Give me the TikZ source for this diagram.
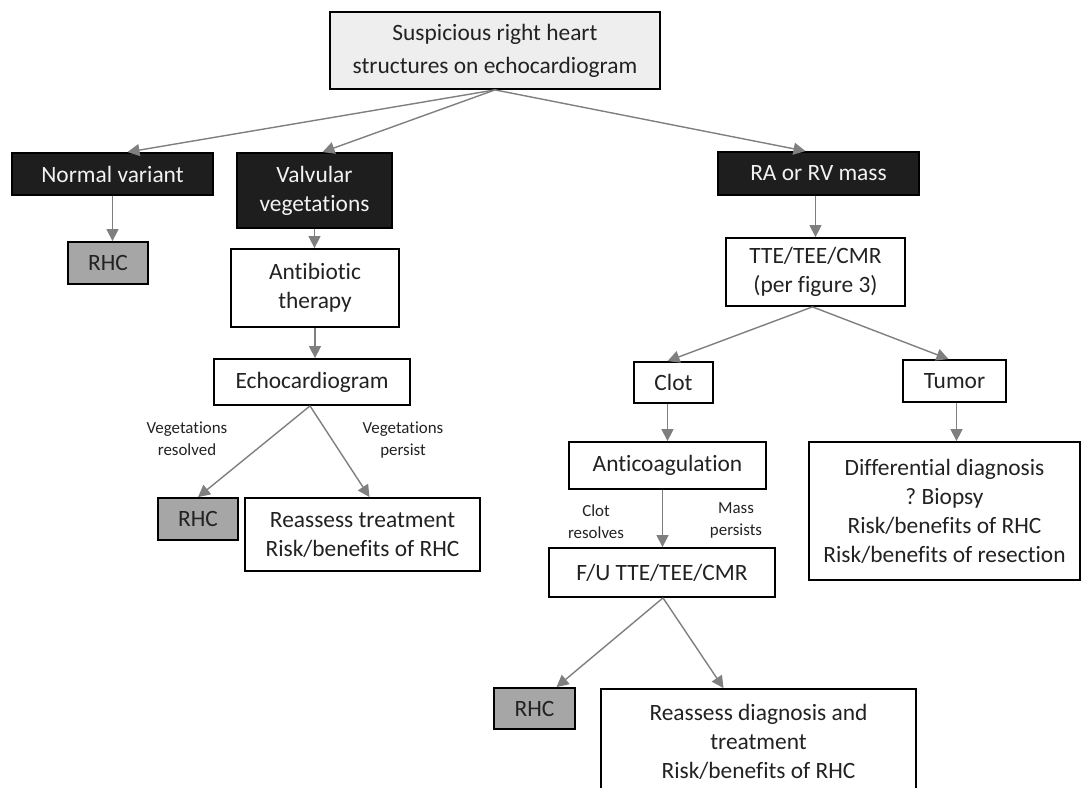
\documentclass[tikz,border=0pt]{standalone}
\usepackage{fontspec}
\setmainfont{Carlito}[Ligatures=NoCommon]
\usetikzlibrary{arrows.meta,calc}
\definecolor{arrowgray}{HTML}{7F7F7F}
\definecolor{topfill}{HTML}{EEEEEE}
\definecolor{darkfill}{HTML}{1E1E1E}
\definecolor{rhcfill}{HTML}{A6A6A6}
\definecolor{lighttext}{HTML}{F2F2F2}
\definecolor{textcol}{HTML}{222222}
\frenchspacing
\tikzset{
  box/.style={draw=black, line width=1.8pt, fill=white, align=center, inner sep=0pt,
    text=textcol, font=\fontsize{23.4}{29}\selectfont},
  darkbox/.style={box, fill=darkfill, text=lighttext},
  rhcbox/.style={box, fill=rhcfill},
  lbl/.style={align=center, inner sep=0pt, text=textcol, font=\fontsize{16.9}{22}\selectfont},
  arr/.style={draw=arrowgray, line width=1.4pt, -{Triangle[length=12pt,width=12pt]}},
}
\begin{document}
\begin{tikzpicture}[x=1pt,y=-1pt]
\useasboundingbox (0,0) rectangle (1081,787);
\begin{scope}
\clip (0,0) rectangle (1081,787);
% nodes
\node[box, fill=topfill, minimum width=330pt, minimum height=77pt,
      font=\fontsize{23.4}{33}\selectfont] (top) at (495,50.5)
  {Suspicious right heart\\structures on echocardiogram};
\node[darkbox, minimum width=201pt, minimum height=42pt] (nv) at (112.5,174) {Normal variant};
\node[darkbox, minimum width=155pt, minimum height=75pt] (vv) at (314.5,190.5) {Valvular\\vegetations};
\node[darkbox, minimum width=201pt, minimum height=43pt] (ra) at (818.5,173.5) {RA or RV mass};
\node[rhcbox, minimum width=80pt, minimum height=42pt] (rhc1) at (108,263) {RHC};
\node[box, minimum width=168pt, minimum height=78pt] (anti) at (315,288) {Antibiotic\\therapy};
\node[box, minimum width=196pt, minimum height=46pt] (echo) at (312,382) {Echocardiogram};
\node[rhcbox, minimum width=80pt, minimum height=42pt] (rhc2) at (198,519) {RHC};
\node[box, minimum width=235pt, minimum height=73pt] (re1) at (362.5,534.5) {Reassess treatment\\Risk/benefits of RHC};
\node[box, minimum width=179pt, minimum height=68pt] (tte) at (815.5,272) {TTE/TEE/CMR\\(per figure 3)};
\node[box, minimum width=79pt, minimum height=41pt] (clot) at (673.5,382.5) {Clot};
\node[box, minimum width=103pt, minimum height=42pt] (tumor) at (954.5,381) {Tumor};
\node[box, minimum width=197pt, minimum height=47pt] (anticoag) at (667.5,465.5) {Anticoagulation};
\node[box, minimum width=271pt, minimum height=138pt] (diff) at (944.5,511)
  {Differential diagnosis\\? Biopsy\\Risk/benefits of RHC\\Risk/benefits of resection};
\node[box, minimum width=226pt, minimum height=49pt] (fu) at (662,572.5) {F/U TTE/TEE/CMR};
\node[rhcbox, minimum width=81pt, minimum height=41pt] (rhc3) at (534.5,708.5) {RHC};
\node[box, minimum width=315pt, minimum height=106pt] (re2) at (758.5,742)
  {Reassess diagnosis and\\treatment\\Risk/benefits of RHC};
% labels
\node[lbl] (l1) at (187,439) {Vegetations\\resolved};
\node[lbl] (l2) at (403,440) {Vegetations\\persist};
\node[lbl] (l3) at (596,522) {Clot\\resolves};
\node[lbl] (l4) at (736,520) {Mass\\persists};
% connectors
\draw[arr] (top.south) -- ([xshift=15pt]nv.north);
\draw[arr] (top.south) -- ([xshift=8pt]vv.north);
\draw[arr] (top.south) -- ([xshift=-13pt]ra.north);
\draw[arr] (nv.south) -- (nv.south |- rhc1.north);
\draw[arr] (vv.south) -- (vv.south |- anti.north);
\draw[arr] (anti.south) -- (anti.south |- echo.north);
\draw[arr] ([xshift=-2pt]echo.south) -- (rhc2.north);
\draw[arr] ([xshift=-2pt]echo.south) -- ([xshift=7pt]re1.north);
\draw[arr] ([xshift=-3pt]ra.north |- ra.south) -- ([xshift=-3pt]ra.north |- tte.north);
\draw[arr] ([xshift=-3pt]tte.south) -- ([xshift=-6pt]clot.north);
\draw[arr] ([xshift=-3pt]tte.south) -- ([xshift=-6pt]tumor.north);
\draw[arr] ([xshift=-6pt]clot.south) -- ([xshift=-6pt]clot.south |- anticoag.north);
\draw[arr] ([xshift=2pt]tumor.south) -- ([xshift=2pt]tumor.south |- diff.north);
\draw[arr] ([xshift=-5pt]anticoag.south) -- ([xshift=-5pt]anticoag.south |- fu.north);
\draw[arr] ([xshift=1pt]fu.south) -- ([xshift=22pt]rhc3.north);
\draw[arr] ([xshift=1pt]fu.south) -- ([xshift=-35pt]re2.north);
\end{scope}
\end{tikzpicture}
\end{document}
